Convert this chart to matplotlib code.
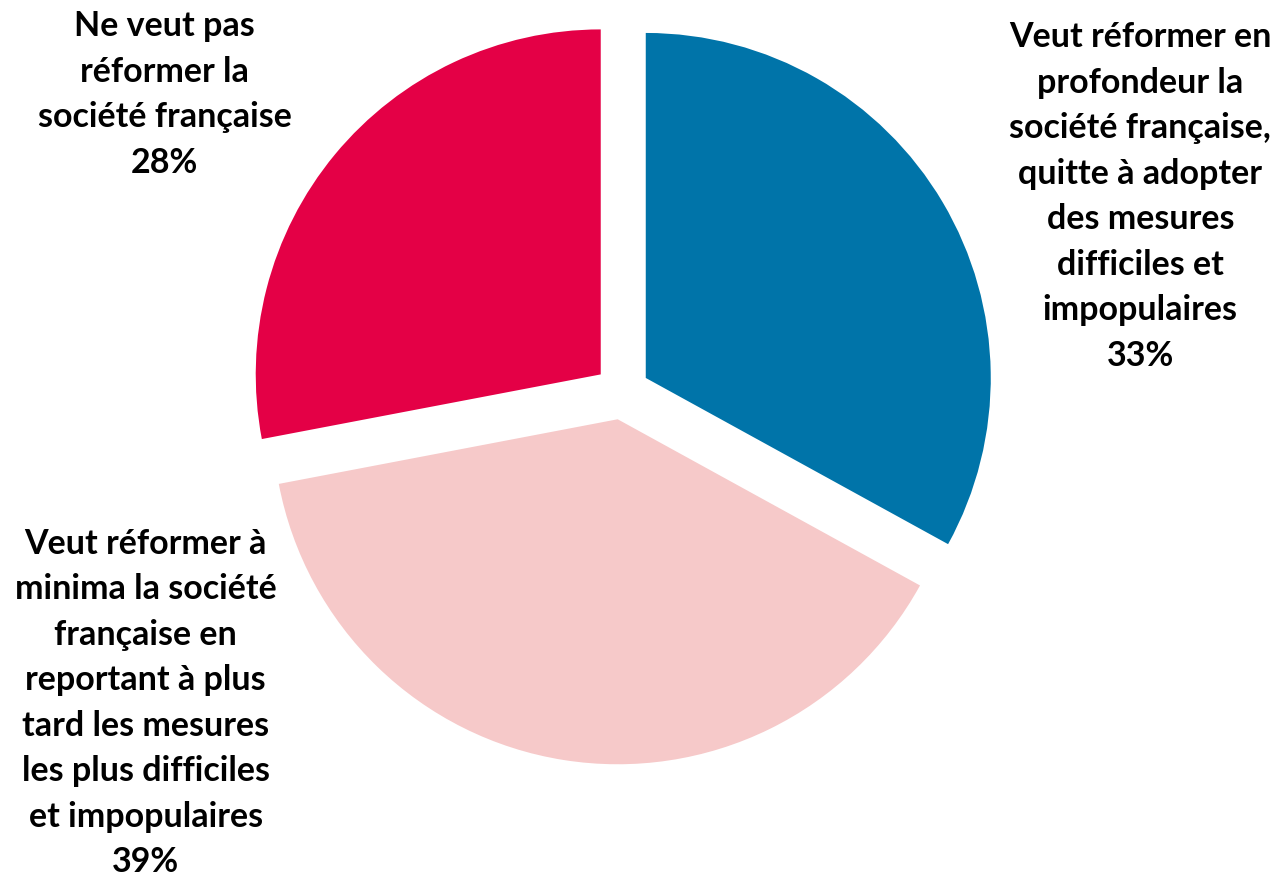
import matplotlib
matplotlib.use("Agg")
import matplotlib.pyplot as plt

# Data
labels = [
    "Veut réformer en\nprofondeur la\nsociété française,\nquitte à adopter\ndes mesures\ndifficiles et\nimpopulaires\n33%",
    "Veut réformer à\nminima la société\nfrançaise en\nreportant à plus\ntard les mesures\nles plus difficiles\net impopulaires\n39%",
    "Ne veut pas\nréformer la\nsociété française\n28%",
]
values = [33, 39, 28]
colors = ["#0074A9", "#F6C9C9", "#E40046"]

plt.rcParams["font.family"] = ["Lato", "DejaVu Sans"]

fig = plt.figure(figsize=(12.77, 8.82), dpi=100)
ax = fig.add_axes([0, 0, 1, 1])

ax.pie(values, colors=colors, startangle=90, counterclock=False,
       explode=[0.08, 0.08, 0.08], radius=1.0)

# place the pie like in the reference (center ~ (622, 392) px, r ~ 345 px)
r_px = 345
ax.set_xlim(-622 / r_px, (1277 - 622) / r_px)
ax.set_ylim(-(882 - 392) / r_px, 392 / r_px)
ax.set_aspect("equal")
ax.axis("off")

label_pos = [(0.893, 0.777), (0.114, 0.203), (0.129, 0.893)]
for lab, (x, y) in zip(labels, label_pos):
    fig.text(x, y, lab, ha="center", va="center", fontsize=24.5,
             fontweight="bold", linespacing=1.52, color="black")

fig.savefig("out.png", dpi=100)
